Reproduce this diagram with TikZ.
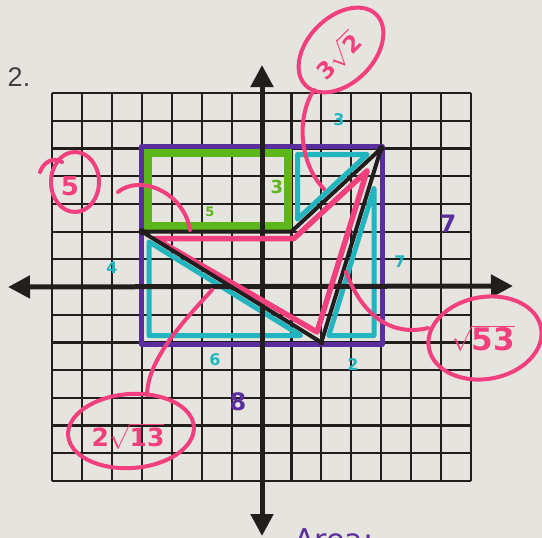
\documentclass[tikz,border=0pt]{standalone}
\usepackage{fontspec}
\setmainfont{DejaVu Sans}
\newfontfamily\numfont{Liberation Sans}
\usetikzlibrary{arrows.meta}
\definecolor{paper}{HTML}{E6E4DE}
\definecolor{ink}{HTML}{231E1E}
\definecolor{pinkm}{HTML}{F2407F}
\definecolor{cyanm}{HTML}{22B5BF}
\definecolor{purplem}{HTML}{5A2E9C}
\definecolor{greenm}{HTML}{5CB61C}
\begin{document}
\begin{tikzpicture}[x=1pt,y=-1pt,
  gridline/.style={draw=ink,line width=2.2pt},
  axisline/.style={draw=ink,line width=5pt,{Triangle[length=22pt,width=22pt]}-{Triangle[length=22pt,width=22pt]}},
  pinkpen/.style={draw=pinkm,line width=4pt,line cap=round,line join=round},
  cyanpen/.style={draw=cyanm,line width=5pt,line cap=round,line join=round},
  lbl/.style={inner sep=0pt,font=\bfseries\fontsize{#1}{#1}\selectfont},
  cyanlbl/.style={lbl=16,text=cyanm},
  purplelbl/.style={lbl=24,text=purplem},
  greenlbl/.style={lbl=#1,text=greenm},
  pinklbl/.style={lbl=#1,text=pinkm}]
\useasboundingbox (0,0) rectangle (542,538);
\fill[paper] (0,0) rectangle (542,538);
\clip (0,0) rectangle (542,538);
% grid
\foreach \i in {0,...,14}{
  \draw[gridline] (52.2+29.9*\i,93.1) -- (52.2+29.9*\i,480.9);
  \draw[gridline] (52.2,93.1+27.7*\i) -- (470.8,93.1+27.7*\i);
}
% problem number
\node[inner sep=0pt,font=\numfont\fontsize{27}{27}\selectfont,text=ink!85] (num) at (19,77) {2.};
% purple rectangle
\draw[draw=purplem,line width=5pt,line join=round] (141.5,146.5) rectangle (382,344.5);
% cyan triangles
\draw[cyanpen] (149,241.9) -- (149,335.5) -- (300.7,335.5) -- cycle;
\draw[cyanpen] (374,188.5) -- (374,335.5) -- (328.8,335.5) -- cycle;
\draw[cyanpen] (297.5,219.1) -- (367.2,154.5) -- (297.5,154.5) -- cycle;
% green rectangle
\draw[draw=greenm,line width=8pt] (148,153) rectangle (288,226);
% axes
\draw[axisline] (8,287) -- (513,286);
\draw[axisline] (262,65) -- (262,536);
% pink quadrilateral
\draw[pinkpen,line width=5.5pt] (155,238.5) -- (294,238.5) -- (367,171) -- (317,332) -- cycle;
% black quadrilateral
\coordinate (A) at (141.9,231.6);
\coordinate (B) at (291.4,231.6);
\coordinate (C) at (381.1,148.5);
\coordinate (D) at (321.3,342.4);
\draw[draw=ink,line width=4pt,line join=round,line cap=round] (A) -- (B) -- (C) -- (D) -- cycle;
\fill[ink] (A) circle (3.5) (C) circle (3.5) (D) circle (3);
% segment labels (cyan)
\node[cyanlbl] (c3) at (339,120) {3};
\node[cyanlbl] (c4) at (112,268) {4};
\node[cyanlbl] (c7) at (400,262) {7};
\node[cyanlbl] (c6) at (215,360) {6};
\node[cyanlbl] (c2) at (353,365) {2};
% purple labels
\node[purplelbl] (p7) at (448,224) {7};
\node[purplelbl] (p8) at (238,402) {8};
% green labels
\node[greenlbl=13] (g5) at (210,212) {5};
\node[greenlbl=18] (g3) at (277,187) {3};
% pink answers
\draw[pinkpen] (75,182) ellipse [x radius=24, y radius=30];
\draw[pinkpen] (40,172) .. controls (44,161) and (54,157) .. (62,162);
\node[pinklbl=26] (a5) at (70,186) {5};
\coordinate (t5a) at (118,192);
\coordinate (t5b) at (190,230);
\draw[pinkpen] (t5a) .. controls (140,174) and (184,192) .. (t5b);

\draw[pinkpen,rotate around={45:(341,50)}] (341,50) ellipse [x radius=50, y radius=33];
\node[pinklbl=23,rotate=45] (a32) at (338,56) {3$\sqrt{\mbox{2}}$};
\coordinate (t32a) at (314,90);
\coordinate (t32b) at (324,189);
\draw[pinkpen] (t32a) .. controls (297,115) and (298,162) .. (t32b);

\draw[pinkpen,rotate around={10:(485,338)}] (485,338) ellipse [x radius=57, y radius=41];
\node[pinklbl=31] (a53) at (483,338) {$\sqrt{\mbox{53}}$};
\coordinate (t53a) at (428,328);
\coordinate (t53b) at (346,272);
\draw[pinkpen] (t53a) .. controls (395,336) and (364,320) .. (t53b);

\draw[pinkpen,rotate around={4:(131,431)}] (131,431) ellipse [x radius=63, y radius=37];
\node[pinklbl=25] (a213) at (128,436) {2$\sqrt{\mbox{13}}$};
\coordinate (t13a) at (147,395);
\coordinate (t13b) at (212,290);
\draw[pinkpen] (t13a) .. controls (148,360) and (180,325) .. (t13b);
% cut-off purple writing at the bottom
\node[inner sep=0pt,anchor=north west,font=\fontsize{30}{30}\selectfont,text=purplem] (area) at (294,528) {Area:};
\end{tikzpicture}
\end{document}
